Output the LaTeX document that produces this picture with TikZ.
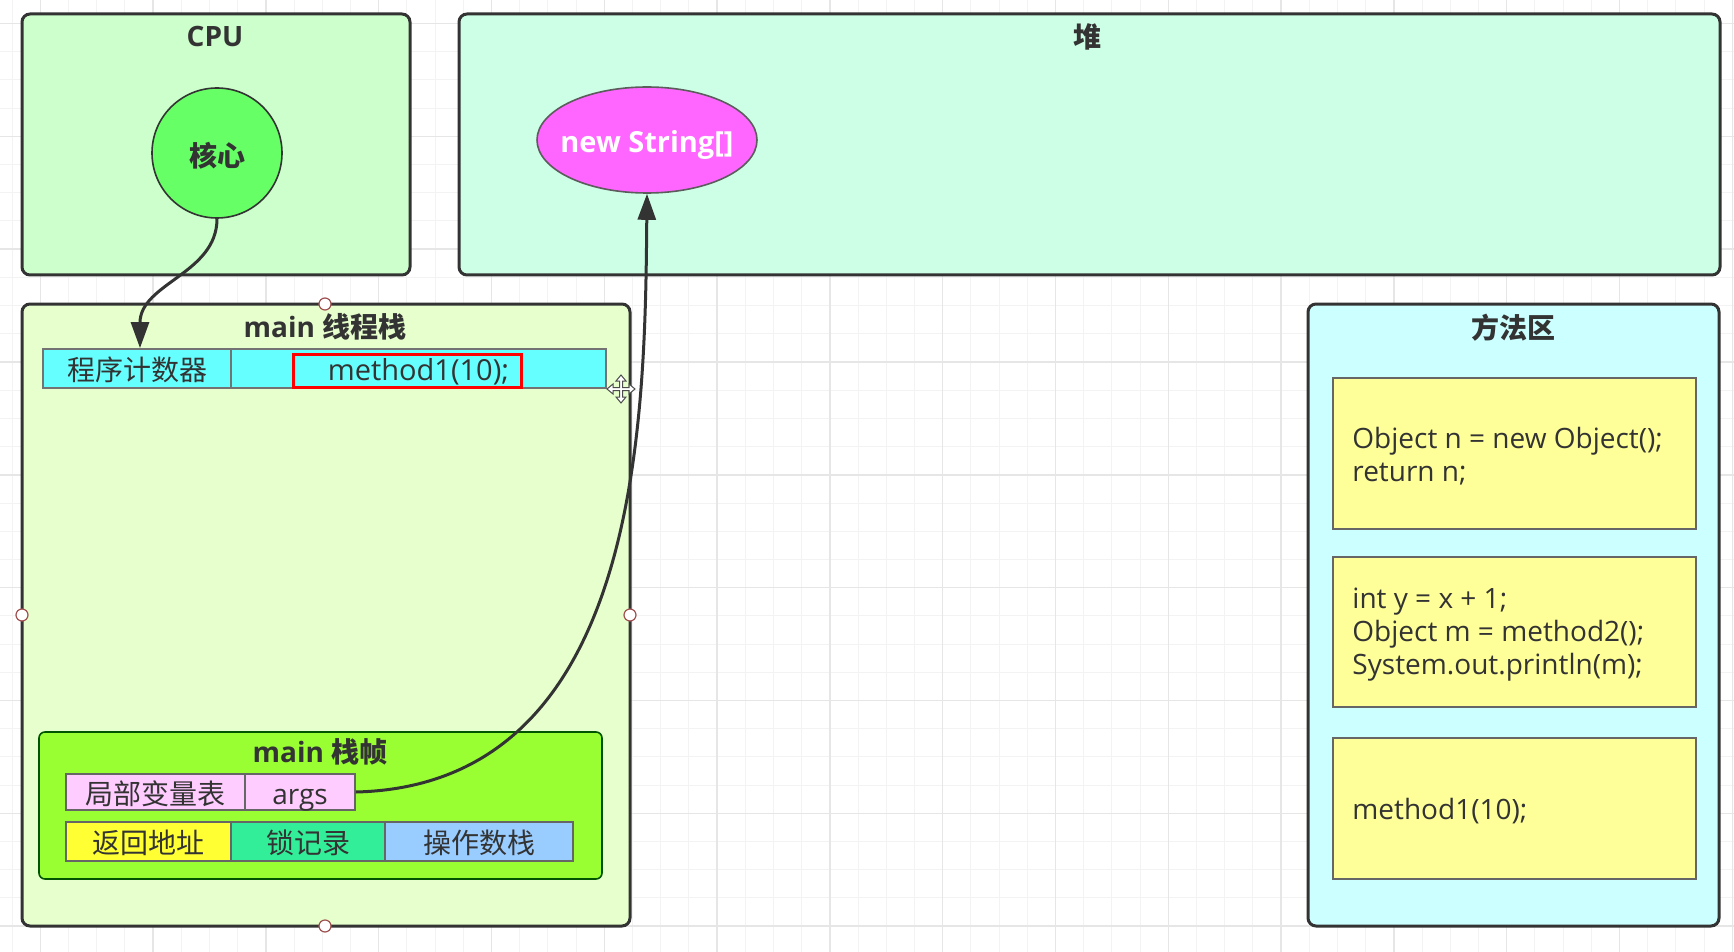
\documentclass[tikz,border=0pt]{standalone}
\usepackage{fontspec}
\setmainfont{Open Sans}
\newfontfamily\cjk{Noto Sans CJK SC}
\usetikzlibrary{fit,arrows.meta,shapes.geometric}
\definecolor{txt}{HTML}{333333}
\definecolor{dark}{HTML}{333333}
\definecolor{gridminor}{HTML}{F3F3F3}
\definecolor{gridmajor}{HTML}{E6E6E6}
\definecolor{cpufill}{HTML}{CCFFCC}
\definecolor{heapfill}{HTML}{CCFFE6}
\definecolor{stackfill}{HTML}{E6FFCC}
\definecolor{methfill}{HTML}{CCFFFF}
\definecolor{corefill}{HTML}{66FF66}
\definecolor{objfill}{HTML}{FF66FF}
\definecolor{pcfill}{HTML}{66FFFF}
\definecolor{framefill}{HTML}{99FF33}
\definecolor{lvfill}{HTML}{FFCCFF}
\definecolor{retfill}{HTML}{FFFF33}
\definecolor{lockfill}{HTML}{33EE99}
\definecolor{opsfill}{HTML}{99CCFF}
\definecolor{codefill}{HTML}{FFFF99}
\definecolor{handleline}{HTML}{A05050}
\begin{document}
\begin{tikzpicture}[x=0.5pt,y=-0.5pt,
  region/.style={draw=dark, line width=1.5pt, rounded corners=4pt, inner sep=0pt},
  cell/.style={draw=#1, line width=0.9pt, inner sep=0pt},
  cell/.default={black!60},
  celltext/.style={text=txt, font=\cjk\fontsize{14}{16}\selectfont, inner sep=0pt, anchor=base, yshift=-6.2pt},
  title/.style={text=txt, font=\bfseries\fontsize{14}{16}\selectfont, inner sep=0pt},
  code/.style={text=txt, font=\fontsize{14}{16.5}\selectfont, align=left, anchor=west, inner sep=0pt},
  conn/.style={draw=dark, line width=1.5pt, -{Triangle[length=13pt,width=9pt]}},
  handle/.style={circle, draw=handleline, fill=white, line width=0.6pt, minimum size=6pt, inner sep=0pt}
]
\useasboundingbox (0,0) rectangle (1734,952);
\fill[white] (0,0) rectangle (1734,952);
% grid
\foreach \i in {0,...,61} {\draw[gridminor, line width=0.5pt] ({12+28.2*\i},0) -- ({12+28.2*\i},952);}
\foreach \j in {0,...,33} {\draw[gridminor, line width=0.5pt] (0,{23.6+28.2*\j}) -- (1734,{23.6+28.2*\j});}
\foreach \i in {0,...,15} {\draw[gridmajor, line width=0.7pt] ({40.2+112.8*\i},0) -- ({40.2+112.8*\i},952);}
\foreach \j in {0,...,8} {\draw[gridmajor, line width=0.7pt] (0,{23.6+112.8*\j}) -- (1734,{23.6+112.8*\j});}

% regions
\node[region, fill=cpufill, fit={(22,14)(410,275)}] (cpu) {};
\node[region, fill=heapfill, fit={(459,14)(1720,275)}] (heap) {};
\node[region, fill=stackfill, fit={(22,304)(630,926)}] (stack) {};
\node[region, fill=methfill, fit={(1308,304)(1719,926)}] (meth) {};

\node[title] (cputitle) at (215,37) {CPU};
\node[title] (heaptitle) at (1087,37) {\cjk 堆};
\node[title] (stacktitle) at (325,327) {main {\cjk 线程栈}};
\node[title] (methtitle) at (1513,328) {\cjk 方法区};

% CPU core and heap object
\node[circle, draw=dark, line width=0.8pt, fill=corefill, minimum size=65pt, inner sep=0pt] (core) at (217,153) {};
\node[text=txt, font=\cjk\bfseries\fontsize{14}{16}\selectfont, inner sep=0pt, anchor=base, yshift=-6.8pt] (coret) at (core.center) {核心};
\node[ellipse, draw=dark!80, line width=0.8pt, fill=objfill, minimum width=110pt, minimum height=53pt, inner sep=0pt] (obj) at (647,140) {};
\node[text=white, font=\bfseries\fontsize{14.5}{16}\selectfont, inner sep=0pt, anchor=base, yshift=-6.5pt] (objt) at (obj.center) {new String[]};

% program counter row
\node[cell={black!55}, fill=pcfill, fit={(43,349)(231,388)}] (pc1) {};
\node[cell={black!55}, fill=pcfill, fit={(231,349)(606,388)}] (pc2) {};
\node[celltext] (pc1t) at (pc1.center) {程序计数器};
\node[celltext, font=\fontsize{14.5}{16}\selectfont] (pc2t) at (pc2.center) {method1(10);};
\node[draw=red, line width=1.5pt, inner sep=0pt, fit={(293,354)(521,387)}] (redbox) {};

% main frame
\node[draw=black!45!green!60!black, line width=0.8pt, rounded corners=3pt, fill=framefill, inner sep=0pt, fit={(39,732)(602,879)}] (frame) {};
\node[title] (frametitle) at (320,752) {main {\cjk 栈帧}};
\node[cell, fill=lvfill, fit={(66,774)(245,810)}] (lv) {};
\node[cell, fill=lvfill, fit={(245,774)(355,810)}] (args) {};
\node[cell, fill=retfill, fit={(66,822)(231,861)}] (ret) {};
\node[cell, fill=lockfill, fit={(231,822)(385,861)}] (lock) {};
\node[cell, fill=opsfill, fit={(385,822)(573,861)}] (ops) {};
\node[celltext] (lvt) at (lv.center) {局部变量表};
\node[celltext, font=\fontsize{14}{16}\selectfont] (argst) at (args.center) {args};
\node[celltext] (rett) at (ret.center) {返回地址};
\node[celltext] (lockt) at (lock.center) {锁记录};
\node[celltext] (opst) at (ops.center) {操作数栈};

% method area
\node[cell={black!60}, fill=codefill, line width=1pt, fit={(1333,378)(1696,529)}] (m1) {};
\node[cell={black!60}, fill=codefill, line width=1pt, fit={(1333,557)(1696,707)}] (m2) {};
\node[cell={black!60}, fill=codefill, line width=1pt, fit={(1333,738)(1696,879)}] (m3) {};
\node[code] (m1t) at (1352,456.5) {Object n = new Object();\\return n;};
\node[code] (m2t) at (1352,635) {int y = x + 1;\\Object m = method2();\\System.out.println(m);};
\node[code] (m3t) at (1352,811.5) {method1(10);};

% connectors
\draw[conn] (core.south) .. controls +(0,55) and +(0,-65) .. ([xshift=1.5pt]pc1.north);
\draw[conn] (args.east) .. controls +(285,-7) and +(-2,227) .. (obj.south);

% selection handles
\node[handle] (h1) at (325,304) {};
\node[handle] (h2) at (22,615) {};
\node[handle] (h3) at (630,615) {};
\node[handle] (h4) at (325,926) {};

% move cursor
\begin{scope}[shift={(621,389)}]
\filldraw[fill=white, draw=black!70, line width=0.5pt]
 (0,-14) -- (5,-8) -- (1.5,-8) -- (1.5,-1.5) -- (8,-1.5) -- (8,-5) -- (14,0) -- (8,5) -- (8,1.5) -- (1.5,1.5)
 -- (1.5,8) -- (5,8) -- (0,14) -- (-5,8) -- (-1.5,8) -- (-1.5,1.5) -- (-8,1.5) -- (-8,5) -- (-14,0) -- (-8,-5)
 -- (-8,-1.5) -- (-1.5,-1.5) -- (-1.5,-8) -- (-5,-8) -- cycle;
\end{scope}
\end{tikzpicture}
\end{document}
